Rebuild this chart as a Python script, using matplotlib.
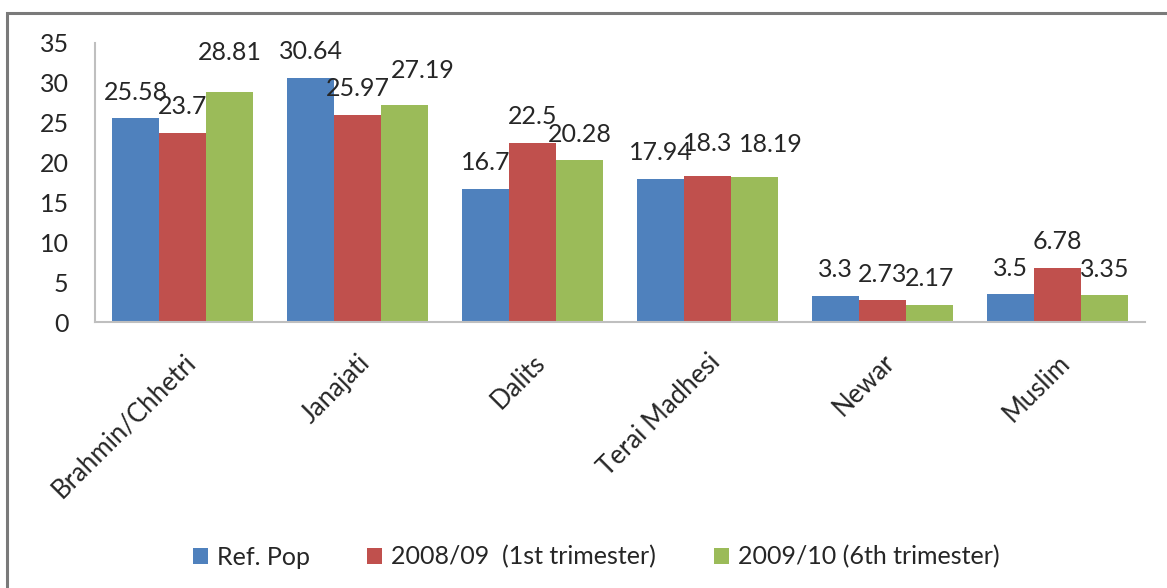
import numpy as np
import matplotlib
matplotlib.use("Agg")
import matplotlib.pyplot as plt
from matplotlib.patches import Rectangle

plt.rcParams["font.family"] = ["Lato", "DejaVu Sans"]

categories = ["Brahmin/Chhetri", "Janajati", "Dalits", "Terai Madhesi", "Newar", "Muslim"]
series_names = ["Ref. Pop", "2008/09  (1st trimester)", "2009/10 (6th trimester)"]
ref_pop = [25.58, 30.64, 16.7, 17.94, 3.3, 3.5]
y2008 = [23.7, 25.97, 22.5, 18.3, 2.73, 6.78]
y2009 = [28.81, 27.19, 20.28, 18.19, 2.17, 3.35]
colors = ["#4F81BD", "#C0504D", "#9BBB59"]

# a few data labels were nudged by hand in the original (series, category) -> (dx, dy) pt
label_nudge = {(2, 0): (0, 10), (2, 1): (13, 6.5), (2, 3): (12, 4.5), (1, 3): (0, 5)}

fig = plt.figure(figsize=(11.67, 5.88), dpi=100)
ax = fig.add_axes([95 / 1167, 1 - 322 / 588, 1050 / 1167, 279 / 588])

# outer chart border (Excel style)
fig.patches.append(Rectangle((7 / 1167, -0.1), 1.2, 1 - 13 / 588 + 0.1,
                             transform=fig.transFigure, fill=False,
                             edgecolor="#7a7a7a", linewidth=2.2))

x = np.arange(len(categories))
w = 0.268
for i, (vals, name) in enumerate(zip([ref_pop, y2008, y2009], series_names)):
    bars = ax.bar(x + (i - 1) * w, vals, w, color=colors[i], label=name)
    for j, (b, v) in enumerate(zip(bars, vals)):
        dx, dy = label_nudge.get((i, j), (0, 0))
        ax.annotate(f"{v:g}", (b.get_x() + b.get_width() / 2, v),
                    xytext=(dx, 10.5 + dy), textcoords="offset points",
                    ha="center", va="bottom", fontsize=18, color="#262626")

ax.set_xlim(-0.5, len(categories) - 0.5)
ax.set_ylim(0, 35)
ax.set_yticks(range(0, 36, 5))
ax.tick_params(axis="y", length=0, labelsize=18, pad=19, colors="#262626")
ax.set_xticks(x)
ax.set_xticklabels(categories, rotation=45, ha="right", rotation_mode="anchor",
                   fontsize=18.5, color="#262626")
ax.tick_params(axis="x", length=0, pad=20)
for s in ["top", "right"]:
    ax.spines[s].set_visible(False)
for s in ["left", "bottom"]:
    ax.spines[s].set_color("#bfbfbf")
    ax.spines[s].set_linewidth(1.5)

leg = fig.legend(loc="center", bbox_to_anchor=(596 / 1167, 1 - 557 / 588), ncol=3,
                 frameon=False, fontsize=18, handlelength=0.6, handleheight=0.6,
                 handletextpad=0.36, columnspacing=2.3)
for t in leg.get_texts():
    t.set_color("#262626")

fig.savefig("out.png", dpi=100)
